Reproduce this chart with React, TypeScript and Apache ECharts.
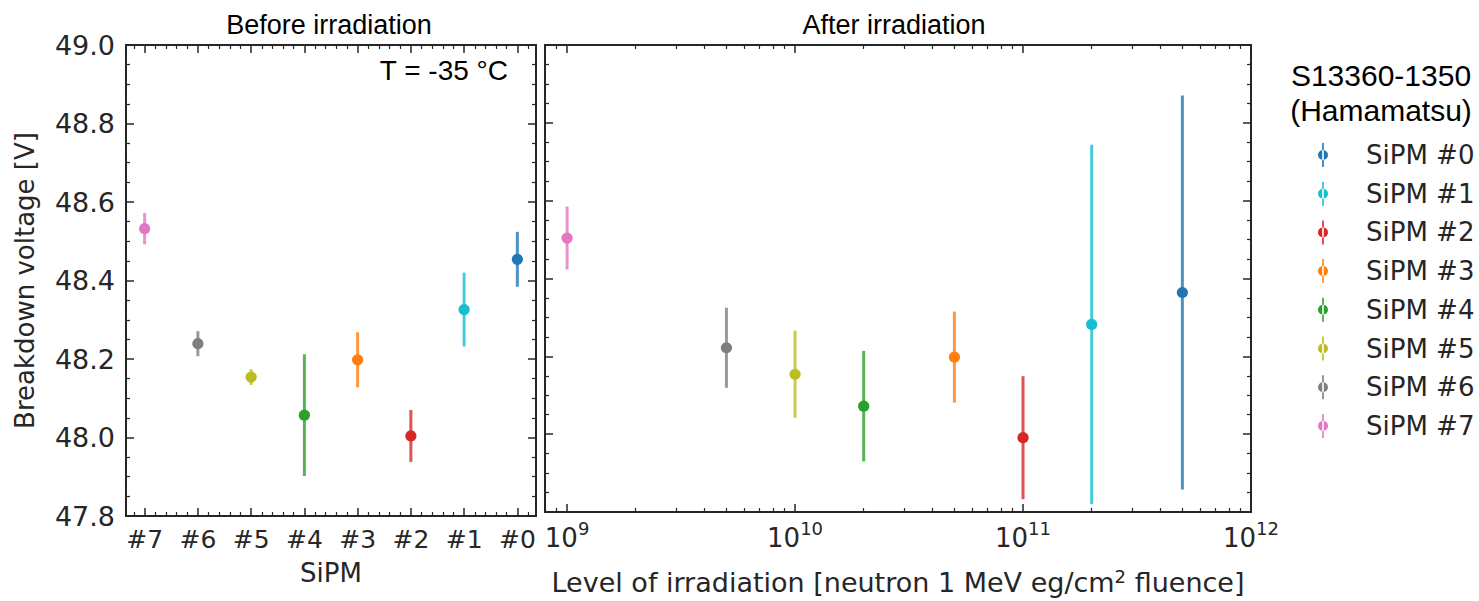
import React, { useEffect, useRef } from 'react';
import * as echarts from 'echarts';

// Breakdown voltage of eight SiPMs (S13360-1350, Hamamatsu) at T = -35 °C,
// before and after neutron irradiation.
const sipmNames = ['SiPM #0', 'SiPM #1', 'SiPM #2', 'SiPM #3', 'SiPM #4', 'SiPM #5', 'SiPM #6', 'SiPM #7'];
const sipmColors = ['#1f77b4', '#17becf', '#d62728', '#ff7f0e', '#2ca02c', '#bcbd22', '#7f7f7f', '#e377c2'];

// Left panel: category order along x
const beforeCategories = ['#7', '#6', '#5', '#4', '#3', '#2', '#1', '#0'];
// Values indexed by SiPM number (#0 .. #7)
const beforeVoltage = [48.454, 48.326, 48.004, 48.198, 48.057, 48.154, 48.239, 48.532];
const beforeError = [0.07, 0.094, 0.066, 0.07, 0.155, 0.02, 0.032, 0.04];

// Right panel: fluence received by each SiPM (#0 .. #7)
const fluence = [5e11, 2e11, 1e11, 5e10, 2e10, 1e10, 5e9, 1e9];
const afterVoltage = [48.364, 48.282, 47.991, 48.198, 48.072, 48.154, 48.222, 48.504];
const afterError = [0.506, 0.462, 0.158, 0.117, 0.142, 0.112, 0.103, 0.081];

// Axis ranges
const voltageMin = 47.8;
const voltageMax = 49.0;
const voltageStep = 0.2;
const categoryMin = -0.35;
const categoryMax = 7.35;
const fluenceMin = 8e8;
const fluenceMax = 1e12;

const DEJAVU = '"DejaVu Sans", sans-serif';
const ARIAL = '"Liberation Sans", Arial, sans-serif';
const INK = '#262626';

// tick positions
const categoryMajor: number[] = [];
for (let i = 0; i < beforeCategories.length; i++) categoryMajor.push(i);
const categoryMinor: number[] = [];
for (let k = -1; k <= 36; k++) {
  const v = Math.round(k * 0.2 * 10) / 10;
  if (v > categoryMin && v < categoryMax && Math.abs(v - Math.round(v)) > 1e-6) categoryMinor.push(v);
}
const expMin = Math.log10(fluenceMin);
const expMax = Math.log10(fluenceMax);
const fluenceMinor: number[] = [];
for (let n = 8; n < 12; n++) {
  for (let k = 2; k <= 9; k++) {
    const e = Math.log10(k * Math.pow(10, n));
    if (e >= expMin - 1e-9 && e <= expMax) fluenceMinor.push(e);
  }
}

const frameLine = { show: true, onZero: false, lineStyle: { color: INK, width: 2 } };

function errorBarItem(params: any, api: any) {
  const x = api.value(0);
  const y = api.value(1);
  const e = api.value(2);
  const top = api.coord([x, y + e]);
  const bot = api.coord([x, y - e]);
  const mid = api.coord([x, y]);
  const color = api.visual('color');
  return {
    type: 'group',
    children: [
      {
        type: 'line',
        shape: { x1: top[0], y1: top[1], x2: bot[0], y2: bot[1] },
        style: { stroke: color, lineWidth: 3, opacity: 0.8 },
      },
      { type: 'circle', shape: { cx: mid[0], cy: mid[1], r: 5.6 }, style: { fill: color } },
    ],
  };
}

function isPowerOfTen(v: number) {
  const p = Math.log10(v);
  return Math.abs(p - Math.round(p)) < 1e-6;
}

export default function App() {
  const ref = useRef<HTMLDivElement>(null);

  useEffect(() => {
    if (!ref.current) return;
    const chart = echarts.init(ref.current, undefined, { renderer: 'svg' });

    const beforeSeries = sipmNames.map((name, i) => ({
      name,
      type: 'custom',
      xAxisIndex: 0,
      yAxisIndex: 0,
      itemStyle: { color: sipmColors[i] },
      renderItem: errorBarItem,
      data: [[beforeCategories.indexOf('#' + i), beforeVoltage[i], beforeError[i]]],
      z: 10 - i,
    }));
    const afterSeries = sipmNames.map((name, i) => ({
      name,
      type: 'custom',
      xAxisIndex: 4,
      yAxisIndex: 2,
      itemStyle: { color: sipmColors[i] },
      renderItem: errorBarItem,
      data: [[fluence[i], afterVoltage[i], afterError[i]]],
      z: 10 - i,
    }));

    const yCommon = {
      type: 'value',
      min: voltageMin,
      max: voltageMax,
      interval: voltageStep,
      axisLine: frameLine,
      axisTick: { show: true, inside: true, length: 8, lineStyle: { color: INK, width: 1.5 } },
      minorTick: { show: true, splitNumber: 4, length: 4, lineStyle: { color: INK, width: 1.2 } },
      splitLine: { show: false },
    };

    const catAxis = (position: string, minor: boolean, labels: boolean) => ({
      type: 'value',
      gridIndex: 0,
      position,
      min: categoryMin,
      max: categoryMax,
      axisLine: minor ? { show: false } : frameLine,
      axisTick: {
        show: true,
        inside: true,
        length: minor ? 4 : 8,
        customValues: minor ? categoryMinor : categoryMajor,
        lineStyle: { color: INK, width: minor ? 1.2 : 1.5 },
      },
      axisLabel: labels
        ? {
            show: true,
            customValues: categoryMajor,
            margin: 11,
            formatter: (v: number) => beforeCategories[Math.round(v)] ?? '',
            fontFamily: DEJAVU,
            fontSize: 25,
            color: INK,
          }
        : { show: false },
      splitLine: { show: false },
    });

    const fluenceAxis = (position: string, labels: boolean) => ({
      type: 'log',
      logBase: 10,
      gridIndex: 1,
      position,
      min: fluenceMin,
      max: fluenceMax,
      axisLine: frameLine,
      axisTick: { show: true, inside: true, length: 8, lineStyle: { color: INK, width: 1.5 } },
      axisLabel: labels
        ? {
            show: true,
            margin: 7,
            formatter: (v: number) => (isPowerOfTen(v) ? `{b|10}{s|${Math.round(Math.log10(v))}}` : ''),
            rich: {
              b: { fontFamily: DEJAVU, fontSize: 26, color: INK, lineHeight: 32, verticalAlign: 'bottom' },
              s: { fontFamily: DEJAVU, fontSize: 18, color: INK, verticalAlign: 'top' },
            },
          }
        : { show: false },
      splitLine: { show: false },
    });

    const fluenceMinorAxis = (position: string) => ({
      type: 'value',
      gridIndex: 1,
      position,
      min: expMin,
      max: expMax,
      axisLine: { show: false },
      axisTick: {
        show: true,
        inside: true,
        length: 4,
        customValues: fluenceMinor,
        lineStyle: { color: INK, width: 1.2 },
      },
      axisLabel: { show: false },
      splitLine: { show: false },
    });

    chart.setOption({
      animation: false,
      backgroundColor: '#ffffff',
      title: [
        {
          text: 'Before irradiation',
          left: 324,
          top: 6,
          textAlign: 'center',
          textStyle: { fontFamily: ARIAL, fontSize: 27, fontWeight: 'normal', color: '#000' },
        },
        {
          text: 'After irradiation',
          left: 889,
          top: 6,
          textAlign: 'center',
          textStyle: { fontFamily: ARIAL, fontSize: 27, fontWeight: 'normal', color: '#000' },
        },
      ],
      grid: [
        { left: 126, top: 45, width: 410, height: 471, containLabel: false },
        { left: 545, top: 45, width: 706, height: 471, containLabel: false },
      ],
      xAxis: [
        {
          ...catAxis('bottom', false, true),
          name: 'SiPM',
          nameLocation: 'middle',
          nameGap: 44,
          nameTextStyle: { fontFamily: DEJAVU, fontSize: 26, color: INK },
        },
        catAxis('bottom', true, false),
        catAxis('top', false, false),
        catAxis('top', true, false),
        {
          ...fluenceAxis('bottom', true),
          name: '{a|Level of irradiation [neutron 1 MeV eg/cm}{s|2}{a| fluence]}',
          nameLocation: 'middle',
          nameGap: 52,
          nameTextStyle: {
            rich: {
              a: { fontFamily: DEJAVU, fontSize: 27, color: INK, lineHeight: 32, verticalAlign: 'bottom' },
              s: { fontFamily: DEJAVU, fontSize: 18, color: INK, verticalAlign: 'top', padding: [3, 0, 0, 0] },
            },
          },
        },
        fluenceMinorAxis('bottom'),
        fluenceAxis('top', false),
        fluenceMinorAxis('top'),
      ],
      yAxis: [
        {
          ...yCommon,
          gridIndex: 0,
          position: 'left',
          axisLabel: {
            show: true,
            margin: 11,
            formatter: (v: number) => v.toFixed(1),
            fontFamily: DEJAVU,
            fontSize: 27,
            color: INK,
          },
          name: 'Breakdown voltage [V]',
          nameLocation: 'middle',
          nameRotate: 90,
          nameGap: 88,
          nameTextStyle: { fontFamily: DEJAVU, fontSize: 26, color: INK },
        },
        { ...yCommon, gridIndex: 0, position: 'right', axisLabel: { show: false } },
        { ...yCommon, gridIndex: 1, position: 'left', axisLabel: { show: false } },
        { ...yCommon, gridIndex: 1, position: 'right', axisLabel: { show: false } },
      ],
      legend: {
        data: sipmNames,
        orient: 'vertical',
        left: 1313,
        top: 137,
        itemWidth: 10,
        itemHeight: 24,
        itemGap: 12.7,
        icon: 'path://M4.2,0 L5.8,0 L5.8,24 L4.2,24 Z M0,12 A5,5 0 1 0 10,12 A5,5 0 1 0 0,12 Z',
        textStyle: { fontFamily: DEJAVU, fontSize: 26, color: INK, padding: [0, 0, 0, 33] },
        selectedMode: false,
      },
      graphic: [
        {
          type: 'text',
          x: 508,
          y: 70,
          style: {
            text: 'T = -35 °C',
            fill: '#000',
            font: `28px ${ARIAL}`,
            align: 'right',
            verticalAlign: 'middle',
          },
        },
        {
          type: 'text',
          x: 1381,
          y: 75,
          style: {
            text: 'S13360-1350',
            fill: '#000',
            font: `30px ${ARIAL}`,
            align: 'center',
            verticalAlign: 'middle',
          },
        },
        {
          type: 'text',
          x: 1381,
          y: 110,
          style: {
            text: '(Hamamatsu)',
            fill: '#000',
            font: `30px ${ARIAL}`,
            align: 'center',
            verticalAlign: 'middle',
          },
        },
      ],
      series: [...beforeSeries, ...afterSeries],
    });

    return () => chart.dispose();
  }, []);

  return (
    <div
      ref={ref}
      style={{ position: 'fixed', left: 0, top: 0, width: 1479, height: 601, background: '#fff' }}
    />
  );
}
